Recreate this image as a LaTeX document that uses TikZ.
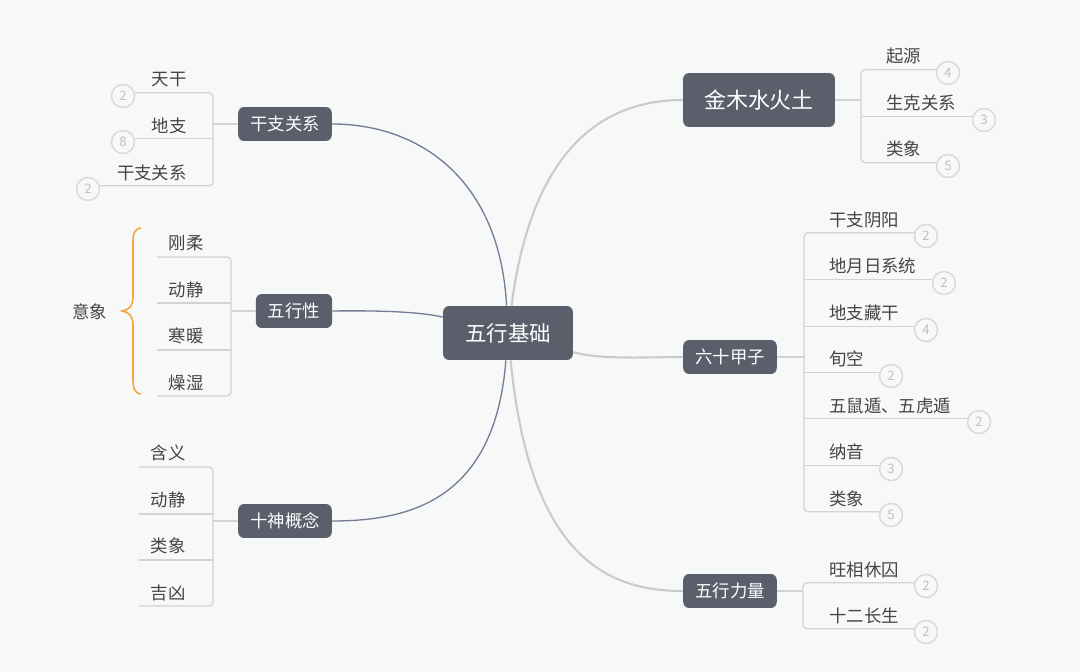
\documentclass[tikz,border=0pt]{standalone}
\usepackage{fontspec}
\setmainfont{Noto Sans CJK SC}
\usepackage{tikz}
\usepackage{xcolor}
\definecolor{bgcol}{HTML}{F7F8F8}
\definecolor{boxcol}{HTML}{5B5E6B}
\definecolor{leftcol}{HTML}{777B96}
\definecolor{rightcol}{HTML}{CBCBCB}
\definecolor{linecol}{HTML}{D3D3D3}
\definecolor{leaftext}{HTML}{454545}
\definecolor{badgecol}{HTML}{DADADA}
\definecolor{badgetext}{HTML}{C0C0C0}
\definecolor{bracecol}{HTML}{F5A33C}

\begin{document}
\begin{tikzpicture}[x=0.02cm,y=-0.02cm,
  topic/.style={fill=boxcol, text=white, rounded corners=3.4pt, inner xsep=0.24cm, inner ysep=0pt, minimum height=0.68cm, font=\fontsize{9.9}{12}\selectfont},
  root/.style={topic, inner xsep=0.44cm, minimum height=1.08cm, font=\fontsize{12.2}{14}\selectfont},
  leaf/.style={text=leaftext, inner sep=0pt, font=\fontsize{9.9}{12}\selectfont},
  badge/.style={circle, draw=badgecol, line width=0.85pt, fill=bgcol, text=badgetext, minimum size=0.46cm, inner sep=0pt, font=\fontsize{7.5}{8}\selectfont},
  leafline/.style={draw=linecol, line width=0.75pt, rounded corners=2.3pt},
  leftlink/.style={draw=leftcol, line width=0.75pt},
  rightlink/.style={draw=rightcol, line width=1.2pt}]
\fill[bgcol] (0,0) rectangle (1080,672);

% main topics
\node[root] (root) at (508,333) {五行基础};
\node[topic] (gz) at (285,124) {干支关系};
\node[topic] (wxx) at (294,311) {五行性};
\node[topic] (ss) at (285,521) {十神概念};
\node[root, font=\fontsize{12.5}{14}\selectfont, inner xsep=0.42cm] (jm) at (759,100) {金木水火土};
\node[topic] (lj) at (730,357) {六十甲子};
\node[topic] (ll) at (730,591) {五行力量};

% links from the root
\draw[leftlink] (root) .. controls (500,180) and (420,124) .. (gz.east);
\draw[leftlink] (wxx.east) .. controls (400,310) and (430,314) .. (root);
\draw[leftlink] (root) .. controls (495,500) and (410,521) .. (ss.east);
\draw[rightlink] (root) .. controls (533,140) and (610,100) .. (jm.west);
\draw[rightlink] (root) .. controls (600,360) and (650,357) .. (lj.west);
\draw[rightlink] (root) .. controls (530,560) and (610,591) .. (ll.west);

% 干支关系
\coordinate (gzT) at (213,124);
\draw[leafline] (gz.west) -- (gzT);
\node[badge] (gzb1) at (123,96) {2};
\node[badge] (gzb2) at (123,142) {8};
\node[badge] (gzb3) at (88,189) {2};
\draw[leafline] (gzb1.15) -| (gzT) |- (gzb3.15);
\draw[leafline] (gzb2.15) -- (gzT |- gzb2.15);
\node[leaf, anchor=east] (gz1) at (187,79.5) {天干};
\node[leaf, anchor=east] (gz2) at (187,125.5) {地支};
\node[leaf, anchor=east] (gz3) at (187,172.5) {干支关系};

% 五行性
\coordinate (wxxT) at (231,311);
\draw[leafline] (wxx.west) -- (wxxT);
\coordinate (wxxe1) at (157,257);
\coordinate (wxxe2) at (157,303);
\coordinate (wxxe3) at (157,350);
\coordinate (wxxe4) at (157,396);
\draw[leafline] (wxxe1) -| (wxxT) |- (wxxe4);
\draw[leafline] (wxxe2) -- (wxxT |- wxxe2);
\draw[leafline] (wxxe3) -- (wxxT |- wxxe3);
\node[leaf, anchor=east] (wxx1) at (204,243) {刚柔};
\node[leaf, anchor=east] (wxx2) at (204,289.5) {动静};
\node[leaf, anchor=east] (wxx3) at (204,336) {寒暖};
\node[leaf, anchor=east] (wxx4) at (204,382.5) {燥湿};
% brace
\draw[bracecol, line width=0.9pt] (141,228) .. controls (134,229) and (133,234) .. (133,244) -- (133,297) .. controls (133,306) and (129,310) .. (122,311) .. controls (129,312) and (133,316) .. (133,325) -- (133,378) .. controls (133,388) and (134,393) .. (141,394);
\node[leaf] (yx) at (90,312) {意象};

% 十神概念
\coordinate (ssT) at (213,521);
\draw[leafline] (ss.west) -- (ssT);
\coordinate (sse1) at (139,467);
\coordinate (sse2) at (139,514);
\coordinate (sse3) at (139,560);
\coordinate (sse4) at (139,606);
\draw[leafline] (sse1) -| (ssT) |- (sse4);
\draw[leafline] (sse2) -- (ssT |- sse2);
\draw[leafline] (sse3) -- (ssT |- sse3);
\node[leaf, anchor=east] (ss1) at (186,453) {含义};
\node[leaf, anchor=east] (ss2) at (186,499.5) {动静};
\node[leaf, anchor=east] (ss3) at (186,546) {类象};
\node[leaf, anchor=east] (ss4) at (186,592.5) {吉凶};

% 金木水火土
\coordinate (jmT) at (861,100);
\draw[leafline] (jm.east) -- (jmT);
\node[badge] (jmb1) at (948,73) {4};
\node[badge] (jmb2) at (984,120) {3};
\node[badge] (jmb3) at (948,166) {5};
\draw[leafline] (jmb1.165) -| (jmT) |- (jmb3.165);
\draw[leafline] (jmb2.165) -- (jmT |- jmb2.165);
\node[leaf, anchor=west] (jm1) at (886,56) {起源};
\node[leaf, anchor=west] (jm2) at (886,103) {生克关系};
\node[leaf, anchor=west] (jm3) at (886,149) {类象};

% 六十甲子
\coordinate (ljT) at (804,357);
\draw[leafline] (lj.east) -- (ljT);
\node[badge] (ljb1) at (926,236) {2};
\node[badge] (ljb2) at (944,283) {2};
\node[badge] (ljb3) at (926,330) {4};
\node[badge] (ljb4) at (891,376) {2};
\node[badge] (ljb5) at (979,422) {2};
\node[badge] (ljb6) at (891,469) {3};
\node[badge] (ljb7) at (891,515) {5};
\draw[leafline] (ljb1.165) -| (ljT) |- (ljb7.165);
\draw[leafline] (ljb2.165) -- (ljT |- ljb2.165);
\draw[leafline] (ljb3.165) -- (ljT |- ljb3.165);
\draw[leafline] (ljb4.165) -- (ljT |- ljb4.165);
\draw[leafline] (ljb5.165) -- (ljT |- ljb5.165);
\draw[leafline] (ljb6.165) -- (ljT |- ljb6.165);
\node[leaf, anchor=west] (lj1) at (829,219.5) {干支阴阳};
\node[leaf, anchor=west] (lj2) at (829,266) {地月日系统};
\node[leaf, anchor=west] (lj3) at (829,312.5) {地支藏干};
\node[leaf, anchor=west] (lj4) at (829,359) {旬空};
\node[leaf, anchor=west] (lj5) at (829,405.5) {五鼠遁、五虎遁};
\node[leaf, anchor=west] (lj6) at (829,452) {纳音};
\node[leaf, anchor=west] (lj7) at (829,498.5) {类象};

% 五行力量
\coordinate (llT) at (803,591);
\draw[leafline] (ll.east) -- (llT);
\node[badge] (llb1) at (926,586) {2};
\node[badge] (llb2) at (926,632) {2};
\draw[leafline] (llb1.165) -| (llT) |- (llb2.165);
\node[leaf, anchor=west] (ll1) at (829,569.5) {旺相休囚};
\node[leaf, anchor=west] (ll2) at (829,615.5) {十二长生};
\end{tikzpicture}
\end{document}
